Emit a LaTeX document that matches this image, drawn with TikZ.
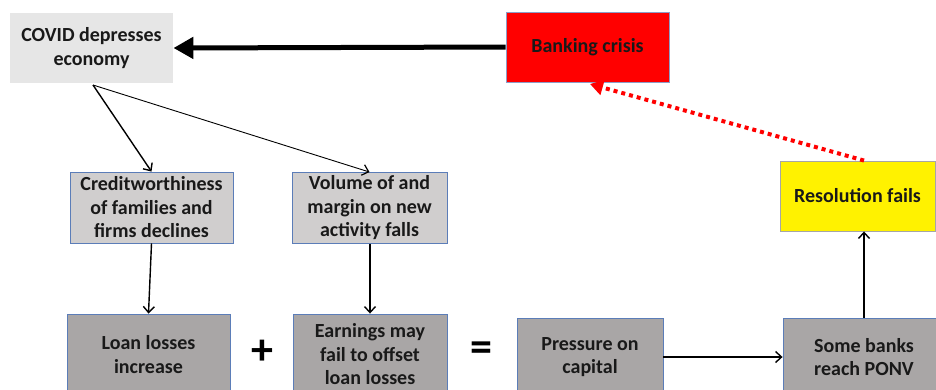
\documentclass[tikz,border=0pt]{standalone}
\usepackage{fontspec}
\setmainfont{Carlito}
\usetikzlibrary{arrows.meta}
\definecolor{covidgray}{HTML}{E6E6E6}
\definecolor{midgray}{HTML}{D0CECE}
\definecolor{lowgray}{HTML}{A9A6A6}
\definecolor{boxblue}{HTML}{5B7DB8}
\definecolor{softblue}{HTML}{8E9CC6}
\begin{document}
\begin{tikzpicture}[x=1pt,y=-1pt,
  box/.style={align=center, inner sep=0pt, line width=0.9pt,
    font=\fontsize{20}{23.5}\selectfont\bfseries, text=black!90},
  thinarrow/.style={line width=1.4pt, -{Straight Barb[length=6pt,width=11pt,line width=1.4pt]}},
  hairarrow/.style={line width=0.9pt, -{Straight Barb[length=6pt,width=11pt,line width=1.2pt]}},
  bigarrow/.style={line width=5pt, -{Triangle[length=20pt,width=21pt]}},
  redarrow/.style={red, line width=4pt, dash pattern=on 4pt off 4pt, -{Triangle[length=13pt,width=15pt]}}
]
\useasboundingbox (0,0) rectangle (936,389);
\clip (0,0) rectangle (936,389);

\node[box, fill=covidgray, minimum width=163pt, minimum height=70pt] (covid) at (91.5,48) {COVID depresses\\economy};
\node[box, fill=red, draw=softblue, minimum width=163pt, minimum height=70pt] (crisis) at (587.5,47) {Banking crisis};

\node[box, fill=midgray, draw=boxblue, minimum width=163pt, minimum height=71pt] (credit) at (151.5,207.5) {Creditworthiness\\of families and\\firms declines};
\node[box, fill=midgray, draw=boxblue, minimum width=155pt, minimum height=71pt] (volume) at (369.5,208) {Volume of and\\margin on new\\activity falls};
\node[box, fill=yellow, draw=gray!70, minimum width=155pt, minimum height=70pt] (resol) at (857.5,196) {Resolution fails};

\node[box, fill=lowgray, draw=boxblue, minimum width=163pt, minimum height=81pt] (loan) at (148.5,354.5) {Loan losses\\increase};
\node[box, fill=lowgray, draw=boxblue, minimum width=154pt, minimum height=81pt] (earn) at (370,354.5) {Earnings may\\fail to offset\\loan losses};
\node[box, fill=lowgray, draw=boxblue, minimum width=146pt, minimum height=78pt] (press) at (590,357) {Pressure on\\capital};
\node[box, fill=lowgray, draw=boxblue, minimum width=162pt, minimum height=78pt] (ponv) at (864,357) {Some banks\\reach PONV};

\node[font=\fontsize{44}{44}\selectfont\bfseries] (plus) at (262,352) {+};
\node[font=\fontsize{44}{44}\selectfont\bfseries] (equals) at (481,352) {=};

\coordinate (covidout) at (93,85);
\draw[bigarrow] (crisis.west) -- (covid.east);
\draw[thinarrow] (covidout) -- (credit.north);
\draw[hairarrow] (covidout) -- (volume.north);
\draw[thinarrow] (credit.south) -- (loan.north);
\draw[thinarrow] (volume.south -| earn.north) -- (earn.north);
\draw[thinarrow] (press.east) -- (ponv.west);
\draw[thinarrow] (ponv.north) -- (ponv.north |- resol.south);
\coordinate (crisistip) at (590,84);
\draw[redarrow] (resol.north -| ponv.north) -- (crisistip);
\end{tikzpicture}
\end{document}
